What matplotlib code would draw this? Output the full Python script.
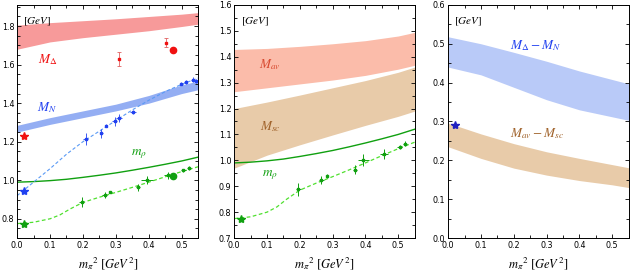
import matplotlib
matplotlib.use("Agg")
import matplotlib.pyplot as plt
from matplotlib.ticker import MultipleLocator
import numpy as np

plt.rcParams['mathtext.fontset'] = 'stix'
plt.rcParams['font.family'] = ['DejaVu Sans']

# ---------------- data ----------------
# panel 1
x_band = [0.0, 0.1, 0.2, 0.3, 0.4, 0.5, 0.55]
delta_hi = [1.805, 1.818, 1.828, 1.838, 1.850, 1.862, 1.870]
delta_lo = [1.680, 1.718, 1.740, 1.758, 1.776, 1.798, 1.810]
nuc_hi = [1.285, 1.325, 1.360, 1.395, 1.440, 1.495, 1.515]
nuc_lo = [1.250, 1.290, 1.325, 1.360, 1.400, 1.450, 1.470]
rho_x = [0.0, 0.05, 0.1, 0.15, 0.2, 0.25, 0.3, 0.35, 0.4, 0.45, 0.5, 0.55]
rho_line = [0.990, 0.993, 0.998, 1.005, 1.015, 1.026, 1.038, 1.052, 1.067, 1.083, 1.100, 1.120]

delta_pts_x = [0.31, 0.453]
delta_pts_y = [1.630, 1.713]
delta_pts_e = [0.036, 0.024]
delta_circle = (0.474, 1.676)
delta_star = (0.02, 1.232)

nuc_pts_x = [0.208, 0.256, 0.271, 0.296, 0.31, 0.352, 0.499, 0.512, 0.535, 0.545]
nuc_pts_y = [1.213, 1.243, 1.283, 1.305, 1.323, 1.355, 1.502, 1.510, 1.522, 1.515]
nuc_pts_ey = [0.032, 0.022, 0.008, 0.025, 0.022, 0.010, 0.006, 0.008, 0.012, 0.008]
nuc_pts_ex = [0.008, 0.004, 0.003, 0.008, 0.010, 0.008, 0.004, 0.004, 0.006, 0.003]
nuc_star = (0.02, 0.945)
nuc_fit_x = [0.0, 0.05, 0.1, 0.15, 0.2, 0.25, 0.3, 0.35, 0.4, 0.45, 0.5, 0.55]
nuc_fit_y = [0.920, 0.990, 1.060, 1.135, 1.200, 1.255, 1.310, 1.365, 1.415, 1.460, 1.498, 1.530]

rho_pts_x = [0.196, 0.266, 0.283, 0.367, 0.394, 0.457, 0.505, 0.522]
rho_pts_y = [0.888, 0.923, 0.940, 0.964, 1.002, 1.025, 1.051, 1.064]
rho_pts_ey = [0.025, 0.015, 0.006, 0.018, 0.022, 0.018, 0.008, 0.010]
rho_pts_ex = [0.008, 0.008, 0.004, 0.006, 0.018, 0.012, 0.008, 0.006]
rho_star = (0.02, 0.774)
rho_circle = (0.474, 1.020)
rho_fit_x = [0.0, 0.05, 0.1, 0.13, 0.16, 0.2, 0.25, 0.3, 0.35, 0.4, 0.45, 0.5, 0.55]
rho_fit_y = [0.775, 0.782, 0.800, 0.820, 0.850, 0.885, 0.912, 0.937, 0.963, 0.990, 1.018, 1.045, 1.070]

# panel 2
av_hi = [1.428, 1.432, 1.440, 1.450, 1.462, 1.480, 1.494]
av_lo = [1.265, 1.280, 1.295, 1.310, 1.328, 1.352, 1.367]
sc_hi = [1.200, 1.225, 1.252, 1.280, 1.308, 1.340, 1.360]
sc_lo = [0.970, 1.020, 1.060, 1.098, 1.135, 1.170, 1.190]

# panel 3
dn_hi = [0.518, 0.500, 0.478, 0.455, 0.430, 0.408, 0.397]
dn_lo = [0.440, 0.420, 0.388, 0.356, 0.330, 0.312, 0.303]
as_hi = [0.296, 0.268, 0.243, 0.222, 0.205, 0.189, 0.181]
as_lo = [0.235, 0.205, 0.180, 0.162, 0.148, 0.137, 0.130]
dn_star = (0.02, 0.290)

# ---------------- figure ----------------
fig = plt.figure(figsize=(6.33, 2.73), dpi=100)
bottom, height = 0.128, 0.854
ax1 = fig.add_axes([0.027, bottom, 0.286, height])
ax2 = fig.add_axes([0.370, bottom, 0.285, height])
ax3 = fig.add_axes([0.708, bottom, 0.285, height])

RED = '#f01010'
BLUE = '#2040f0'
GREEN = '#10a010'
LGREEN = '#50e030'
LBLUE = '#5a9af5'

def style(ax, ylim, ymaj, ymin):
    ax.set_xlim(0, 0.55)
    ax.set_ylim(*ylim)
    ax.xaxis.set_major_locator(MultipleLocator(0.1))
    ax.xaxis.set_minor_locator(MultipleLocator(0.05))
    ax.yaxis.set_major_locator(MultipleLocator(ymaj))
    ax.yaxis.set_minor_locator(MultipleLocator(ymin))
    ax.tick_params(which='both', direction='in', top=True, right=True, labelsize=5.8, width=0.6)
    ax.tick_params(which='major', length=3, pad=2)
    ax.tick_params(which='minor', length=2)
    for s in ax.spines.values():
        s.set_linewidth(0.7)
    ax.xaxis.set_major_formatter(matplotlib.ticker.FormatStrFormatter('%.1f'))
    ax.yaxis.set_major_formatter(matplotlib.ticker.FormatStrFormatter('%.1f'))
    ax.set_xlabel(r'$m_\pi{}^2\ [GeV^2]$', fontsize=9, labelpad=4)
    ax.text(0.035, 0.955, r'$[GeV]$', transform=ax.transAxes, fontsize=8, va='top', ha='left')

style(ax1, (0.70, 1.91), 0.2, 0.05)
style(ax2, (0.7, 1.6), 0.1, 0.05)
style(ax3, (0.0, 0.6), 0.1, 0.05)

# panel 1
ax1.fill_between(x_band, delta_lo, delta_hi, color='#f79a9a', lw=0)
ax1.fill_between(x_band, nuc_lo, nuc_hi, color='#94aef3', lw=0)
ax1.plot(rho_x, rho_line, color=GREEN, lw=1.0)
ax1.plot(nuc_fit_x, nuc_fit_y, ls=(0, (3, 2)), color=LBLUE, lw=0.8)
ax1.plot(rho_fit_x, rho_fit_y, ls=(0, (3, 2)), color=LGREEN, lw=0.9)
ax1.errorbar(delta_pts_x, delta_pts_y, yerr=delta_pts_e, fmt='s', ms=2, color=RED,
             ecolor='#e06060', elinewidth=0.6, capsize=1.5, capthick=0.6)
ax1.plot(*delta_circle, 'o', color=RED, ms=4.5)
ax1.plot(*delta_star, '*', color=RED, ms=6)
ax1.errorbar(nuc_pts_x, nuc_pts_y, yerr=nuc_pts_ey, xerr=nuc_pts_ex, fmt='s', ms=2, color=BLUE,
             elinewidth=0.6, capsize=0)
ax1.plot(*nuc_star, '*', color=BLUE, ms=6)
ax1.errorbar(rho_pts_x, rho_pts_y, yerr=rho_pts_ey, xerr=rho_pts_ex, fmt='s', ms=1.8, color=GREEN,
             elinewidth=0.7, capsize=0)
ax1.plot(*rho_circle, 'o', color=GREEN, ms=4.5)
ax1.plot(*rho_star, '*', color=GREEN, ms=6)
ax1.text(0.092, 1.624, r'$M_\Delta$', color=RED, fontsize=9.5, ha='center', va='center')
ax1.text(0.092, 1.377, r'$M_N$', color=BLUE, fontsize=9.5, ha='center', va='center')
ax1.text(0.369, 1.135, r'$m_\rho$', color=GREEN, fontsize=9.5, ha='center', va='center')

# panel 2
ax2.fill_between(x_band, av_lo, av_hi, color='#fbbcaa', lw=0)
ax2.fill_between(x_band, sc_lo, sc_hi, color='#e8cba9', lw=0)
ax2.plot(rho_x, rho_line, color=GREEN, lw=1.0)
ax2.plot(rho_fit_x, rho_fit_y, ls=(0, (3, 2)), color=LGREEN, lw=0.9)
ax2.errorbar(rho_pts_x, rho_pts_y, yerr=rho_pts_ey, xerr=rho_pts_ex, fmt='s', ms=1.8, color=GREEN,
             elinewidth=0.7, capsize=0)
ax2.plot(*rho_star, '*', color=GREEN, ms=6)
ax2.text(0.11, 1.37, r'$M_{av}$', color='#d84a30', fontsize=9.5, ha='center', va='center')
ax2.text(0.11, 1.13, r'$M_{sc}$', color='#a0622a', fontsize=9.5, ha='center', va='center')
ax2.text(0.11, 0.943, r'$m_\rho$', color=GREEN, fontsize=9.5, ha='center', va='center')

# panel 3
ax3.fill_between(x_band, dn_lo, dn_hi, color='#b9caf8', lw=0)
ax3.fill_between(x_band, as_lo, as_hi, color='#e8cba9', lw=0)
ax3.plot(*dn_star, '*', color='#2020c0', ms=6)
ax3.text(0.19, 0.496, r'$M_\Delta - M_N$', color=BLUE, fontsize=9.5, ha='left', va='center')
ax3.text(0.187, 0.27, r'$M_{av} - M_{sc}$', color='#a0622a', fontsize=9.5, ha='left', va='center')

fig.savefig('out.png', dpi=100)
